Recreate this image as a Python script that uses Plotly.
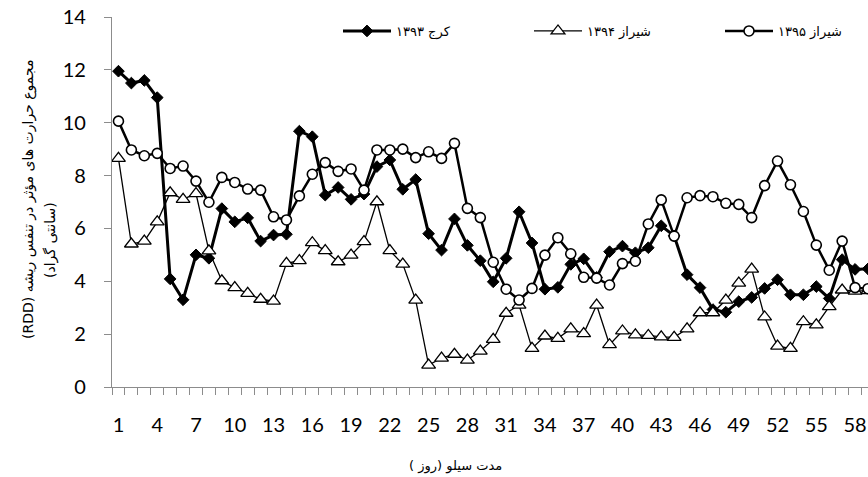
import plotly.graph_objects as go

days = list(range(1, 60))

karaj_1393 = [11.95, 11.5, 11.6, 10.95, 4.09, 3.3, 5.0, 4.87, 6.75, 6.25,
              6.4, 5.52, 5.75, 5.78, 9.68, 9.47, 7.26, 7.55, 7.1, 7.3,
              8.34, 8.59, 7.48, 7.85, 5.8, 5.18, 6.36, 5.36, 4.78, 3.98,
              4.87, 6.63, 5.45, 3.7, 3.77, 4.64, 4.85, 4.15, 5.12, 5.33,
              5.08, 5.27, 6.1, 5.72, 4.25, 3.76, 2.93, 2.83, 3.23, 3.39,
              3.73, 4.06, 3.49, 3.49, 3.8, 3.35, 4.82, 4.45, 4.47]

shiraz_1394 = [8.65, 5.41, 5.52, 6.25, 7.35, 7.1, 7.32, 5.15, 4.02, 3.76,
               3.54, 3.32, 3.25, 4.68, 4.78, 5.46, 5.16, 4.74, 4.99, 5.5,
               7.01, 5.16, 4.65, 3.29, 0.83, 1.09, 1.24, 1.02, 1.36, 1.8,
               2.79, 3.1, 1.46, 1.93, 1.84, 2.2, 2.02, 3.1, 1.6, 2.12,
               1.97, 1.95, 1.9, 1.88, 2.2, 2.81, 2.81, 3.29, 3.93, 4.46,
               2.65, 1.55, 1.46, 2.47, 2.35, 3.04, 3.67, 3.63, 3.65]

shiraz_1395 = [10.06, 8.97, 8.75, 8.84, 8.27, 8.36, 7.79, 6.99, 7.93, 7.74,
               7.49, 7.45, 6.44, 6.32, 7.23, 8.05, 8.49, 8.16, 8.25, 7.45,
               8.97, 8.97, 9.0, 8.68, 8.9, 8.65, 9.22, 6.76, 6.41, 4.72,
               3.7, 3.29, 3.73, 4.99, 5.65, 5.04, 4.15, 4.12, 3.86, 4.67,
               4.76, 6.17, 7.08, 5.71, 7.16, 7.24, 7.2, 6.95, 6.91, 6.41,
               7.62, 8.55, 7.65, 6.64, 5.37, 4.42, 5.52, 3.76, 3.72]

x_tick_vals = list(range(1, 59, 3))
x_tick_text = [str(v) for v in x_tick_vals]
y_tick_vals = list(range(0, 15, 2))

RLE, PDF = "\u202B", "\u202C"
name_1393 = RLE + "کرج ۱۳۹۳" + PDF
name_1394 = RLE + "شیراز ۱۳۹۴" + PDF
name_1395 = RLE + "شیراز ۱۳۹۵" + PDF
y_title_1 = RLE + "مجموع حرارت های مؤثر در تنفس ریشه (RDD)" + PDF
y_title_2 = RLE + "(سانتی گراد)" + PDF
x_title = RLE + "مدت سیلو (روز )" + PDF

fig = go.Figure()
fig.add_trace(go.Scatter(
    x=days, y=karaj_1393, name=name_1393, mode="lines+markers",
    line=dict(color="black", width=3),
    marker=dict(symbol="diamond", size=9, color="black", line=dict(color="black", width=1)),
))
fig.add_trace(go.Scatter(
    x=days, y=shiraz_1394, name=name_1394, mode="lines+markers",
    line=dict(color="black", width=1.3),
    marker=dict(symbol="triangle-up", size=12, color="white", line=dict(color="black", width=1.3)),
))
fig.add_trace(go.Scatter(
    x=days, y=shiraz_1395, name=name_1395, mode="lines+markers",
    line=dict(color="black", width=2.5),
    marker=dict(symbol="circle", size=10, color="white", line=dict(color="black", width=1.6)),
))

W0, W1, T0, B0 = 112, 868, 17, 387
PW, PH = W1 - W0, B0 - T0

def px_x(p):
    return (p - W0) / PW

def px_y(p):
    return (B0 - p) / PH

axis_gray = "#8c8c8c"
fig.update_layout(
    width=868, height=477,
    margin=dict(l=W0, r=868 - W1, t=T0, b=477 - B0, autoexpand=False),
    paper_bgcolor="white", plot_bgcolor="white",
    font=dict(family="Lato, DejaVu Sans, sans-serif", color="black"),
    showlegend=True,
    legend=dict(
        orientation="h", x=px_x(338), y=px_y(31), xanchor="left", yanchor="middle",
        font=dict(family="DejaVu Sans", size=13, color="black"),
        itemwidth=48, entrywidth=128, entrywidthmode="pixels", traceorder="normal",
        bgcolor="rgba(0,0,0,0)", tracegroupgap=0,
    ),
    xaxis=dict(
        range=[0.5, 59.0], showgrid=False, zeroline=False, automargin=False,
        showline=True, linecolor=axis_gray, linewidth=1.3,
        tickmode="array", tickvals=x_tick_vals, ticktext=x_tick_text,
        ticks="", tickfont=dict(size=20, family="Lato"),
        ticklabelstandoff=20,
        minor=dict(ticks="outside", tick0=0.5, dtick=1, ticklen=7,
                   tickcolor=axis_gray, tickwidth=1.3, showgrid=False),
    ),
    yaxis=dict(
        range=[0, 14], showgrid=False, zeroline=False, automargin=False,
        showline=True, linecolor=axis_gray, linewidth=1.3,
        tickmode="array", tickvals=y_tick_vals,
        ticks="outside", ticklen=7, tickcolor=axis_gray, tickwidth=1.3,
        tickfont=dict(size=20, family="Lato"),
        ticklabelstandoff=14,
    ),
    annotations=[
        dict(text=x_title, xref="paper", yref="paper", x=px_x(455), y=px_y(466),
             xanchor="center", yanchor="middle", showarrow=False,
             font=dict(family="DejaVu Sans", size=13)),
        dict(text=y_title_1, xref="paper", yref="paper", x=px_x(28), y=px_y(200),
             xanchor="center", yanchor="middle", textangle=-90, showarrow=False,
             font=dict(family="DejaVu Sans", size=14)),
        dict(text=y_title_2, xref="paper", yref="paper", x=px_x(50), y=px_y(240),
             xanchor="center", yanchor="middle", textangle=-90, showarrow=False,
             font=dict(family="DejaVu Sans", size=14)),
    ],
)

fig.write_html(
    "out.html",
    config={"displayModeBar": False},
    post_script="document.body.style.margin='0';document.body.style.overflow='hidden';",
)
